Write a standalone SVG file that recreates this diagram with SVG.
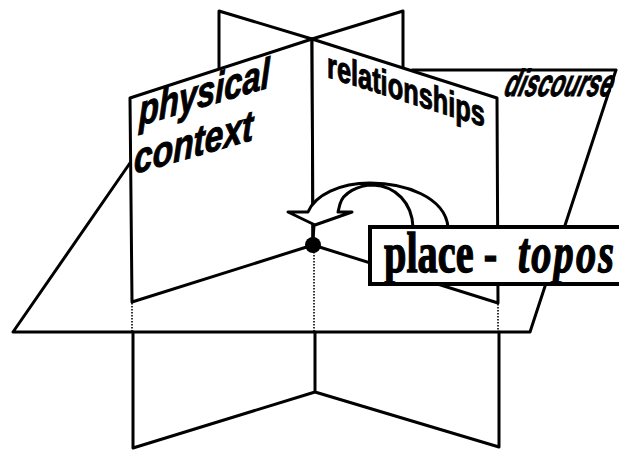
<svg xmlns="http://www.w3.org/2000/svg" width="619" height="450" viewBox="0 0 619 450">
  <style>
    .ln { fill: none; stroke: #000; stroke-width: 3; stroke-linejoin: round; stroke-linecap: round; }
    .pn { fill: #fff; stroke: #000; stroke-width: 3; stroke-linejoin: round; }
    .dot { fill: none; stroke: #000; stroke-width: 1.6; stroke-dasharray: 1.5 1.5; }
    .lbl { font-family: "Liberation Sans", Arial, sans-serif; font-weight: bold; fill: #000; stroke: #000; stroke-width: 1; }
    .pl { font-family: "Liberation Serif", "Times New Roman", serif; font-weight: bold; fill: #000; stroke: #000; stroke-width: 1.4; }
  </style>
  <rect width="619" height="450" fill="#fff"/>

  <!-- back halves of the two vertical planes -->
  <g id="back-planes">
    <polyline class="ln" points="219,80 219,11 312,39 403,11 403,80"/>
  </g>

  <!-- horizontal plane (discourse) -->
  <g id="horizontal-plane">
    <polygon points="13,332 530,332 616,70 188,70" fill="#fff" stroke="none"/>
    <path class="ln" d="M130,163 L13,332 L530,332 L616,70 L412,70"/>
    <text class="lbl" font-style="italic" font-size="38" transform="translate(503,96) skewX(-16) scale(0.6,1)">discourse</text>
  </g>

  <!-- hidden edges seen through the horizontal plane -->
  <g id="hidden-edges">
    <line class="dot" x1="132" y1="303" x2="132" y2="331"/>
    <line class="dot" x1="314" y1="252" x2="314" y2="331"/>
    <line class="dot" x1="498" y1="304" x2="498" y2="331"/>
  </g>

  <!-- lower halves of the vertical planes -->
  <g id="lower-planes">
    <path class="ln" d="M133,332 L133,448 L315,392 L315,332 M315,392 L499,447 L499,332"/>
  </g>

  <!-- physical context panel -->
  <g id="physical-context">
    <polygon class="pn" points="130,98 312,39 313,245 132,302"/>
    <text class="lbl" font-style="italic" font-size="43" transform="translate(139,126) skewY(-16.5) scale(0.76,1)">physical</text>
    <text class="lbl" font-style="italic" font-size="43" transform="translate(134,174) skewY(-16) scale(0.78,1)">context</text>
  </g>

  <!-- relationships panel -->
  <g id="relationships">
    <polygon class="pn" points="312,39 497,98 498,303 313,245"/>
    <text class="lbl" font-size="36" transform="translate(327,77) skewY(17.6) scale(0.705,1)">relationships</text>
  </g>

  <!-- curved arrow pointing at the place -->
  <g id="arrow">
    <path class="pn" d="M413,227 C412,203 396,186 373,185 C358,185 343,193 340,204 L338,212 L352,212 L315,225 L288,212 L308,212 C315,195 340,183 370,183 C405,183 445,197 448,227 Z"/>
    <line class="ln" x1="314" y1="225" x2="313" y2="240"/>
  </g>

  <g id="place-point">
    <circle cx="313" cy="245" r="8" fill="#000"/>
  </g>

  <!-- place - topos label box -->
  <g id="place-topos">
    <rect x="370" y="227" width="260" height="57" fill="#fff" stroke="#000" stroke-width="4"/>
    <text class="pl" font-size="56" transform="translate(384,272) scale(0.72,1)">place -<tspan x="186" font-style="italic" letter-spacing="3">topos</tspan></text>
  </g>
</svg>
